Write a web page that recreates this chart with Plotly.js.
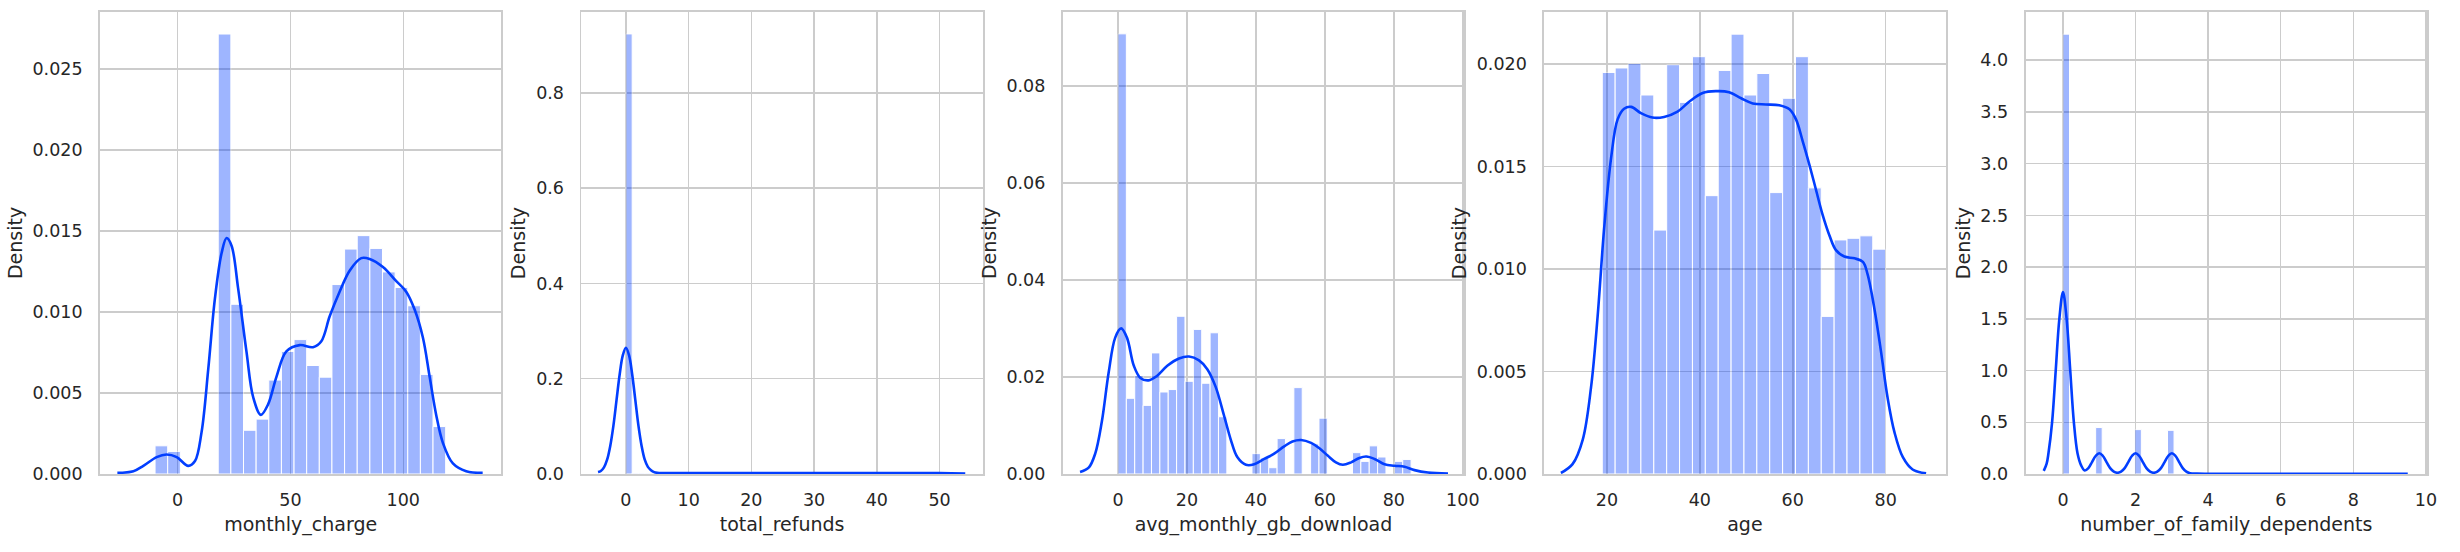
<!DOCTYPE html>
<html><head><meta charset="utf-8">
<script src="https://cdn.plot.ly/plotly-3.0.1.min.js"></script>
<style>html,body{margin:0;padding:0;background:#fff}</style>
</head><body><div id="chart" style="width:2460px;height:552px"></div>
<script>
// ---------- data ----------
const xTitles = ["monthly_charge", "total_refunds", "avg_monthly_gb_download", "age", "number_of_family_dependents"];

// monthly_charge histogram (density) and KDE
const mcBinStart = -10, mcBinWidth = 5.6;
const mcHeights = [0.00174, 0.00139, 0, 0, 0, 0.02717, 0.01048, 0.0027, 0.00339, 0.0058, 0.00757, 0.0083, 0.0067, 0.00598, 0.0117, 0.01389, 0.01472, 0.01393, 0.01248, 0.01152, 0.01039, 0.00615, 0.00293];
const mcKdeX = [-26.7,-19.6,-15.2,-9.3,-4.9,-0.4,4.7,7.7,10.6,13.6,16.5,19.5,21.7,23.9,26.8,30.5,33.5,36.9,40.1,43.8,48.2,54.1,60.0,63.7,67.4,71.8,76.3,81.4,85.1,91.0,96.9,101.3,105,108.7,111.7,114.6,117.6,122,127.9,135.2];
const mcKdeY = [0.00007,0.00017,0.0005,0.00104,0.0012,0.00104,0.0005,0.0008,0.00257,0.0065,0.0108,0.01365,0.01457,0.0141,0.01148,0.00757,0.00474,0.00365,0.0043,0.006,0.00757,0.00796,0.00783,0.0082,0.00974,0.01126,0.01257,0.01333,0.01328,0.01278,0.01191,0.01126,0.01017,0.00843,0.006,0.00365,0.00191,0.00065,0.00017,0.00007];

// total_refunds
const trBinStart = 0, trBinWidth = 0.996;
const trHeights = [0.924,
  0.0016,0.0016,0.0016,0.0016,0.0016,0.0016,0.0016,0.0016,0.0016,0.0016,
  0.0016,0.0016,0.0016,0.0016,0.0016,0.0016,0.0016,0.0016,0.0016,0.0016,
  0.0016,0.0016,0.0016,0.0016,0.0016,0.0016,0.0016,0.0016,0.0016,0.0016,
  0.0016,0.0016,0.0016,0.0016,0.0016,0.0016,0.0016,0.0016,0.0016,0.0016,
  0.0016,0.0016,0.0016,0.0016,0.0016,0.0016,0.0016,0.0016,0.0016];
const trKdeX = [-4.45,-4,-3.5,-3,-2.5,-2,-1.5,-1,-0.5,0,0.5,1,1.5,2,2.5,3,3.5,4,4.5,5,6,10,20,30,40,50,54.1];
const trKdeY = [0.004,0.0064,0.014,0.03,0.059,0.101,0.155,0.209,0.249,0.265,0.249,0.209,0.155,0.101,0.059,0.03,0.015,0.008,0.004,0.0025,0.002,0.002,0.002,0.002,0.002,0.002,0.001];

// avg_monthly_gb_download
const gbBinStart = 0, gbBinWidth = 2.4286;
const gbHeights = [0.0907, 0.0156, 0.0203, 0.01414, 0.02495, 0.0169, 0.0174, 0.0325, 0.0191, 0.0298, 0.0187, 0.0291, 0.0118, 0, 0, 0, 0.0042, 0.0033, 0.0013, 0.0073, 0, 0.0178, 0, 0.0062, 0.0115, 0, 0, 0, 0.0044, 0.0026, 0.0058, 0.0035, 0, 0.0026, 0.003];
const gbKdeX = [-11,-8.5,-6.6,-4.7,-2.7,-0.8,0.9,2.6,4.6,6.5,8.9,11.3,14.3,17.7,20.6,23.5,25.9,28.3,30.7,32.7,34.6,37.1,39.5,42.4,45.3,48.2,50.6,53.1,56,58.4,60.8,63.2,65.2,67.6,70,72,74.4,77.3,80.2,83.1,86,89.9,95.7];
const gbKdeY = [0.0004,0.0013,0.0042,0.0107,0.0209,0.0281,0.03,0.0281,0.0223,0.0198,0.0193,0.0202,0.0223,0.0238,0.0242,0.0234,0.0216,0.018,0.0122,0.0071,0.0035,0.0019,0.002,0.0031,0.0042,0.0057,0.0067,0.007,0.0064,0.0053,0.0038,0.0024,0.0019,0.0024,0.0033,0.0036,0.0031,0.002,0.0017,0.0015,0.0008,0.0003,0.0001];

// age
const agBinStart = 19, agBinWidth = 2.7727;
const agHeights = [0.01959, 0.01981, 0.02003, 0.01849, 0.0119, 0.01997, 0.01813, 0.02036, 0.01358, 0.01969, 0.02146, 0.01849, 0.01954, 0.01373, 0.01833, 0.02036, 0.01396, 0.00769, 0.01142, 0.0115, 0.01162, 0.01097];
const agKdeX = [10.1,12.6,14.8,16.6,18.0,19.4,20.9,22.3,23.7,25.2,27.3,29.8,32.3,35.2,37.7,40.6,43.5,46.3,48.9,51.4,54.2,57.1,59.3,60.7,62.1,63.6,65.0,66.4,67.9,69.3,71.1,73.3,75.1,76.1,77.6,79.0,80.4,81.9,83.7,85.8,88.7];
const agKdeY = [0.00005,0.00048,0.00168,0.00426,0.00769,0.01198,0.01542,0.0173,0.01782,0.01791,0.01761,0.01739,0.01742,0.01768,0.01816,0.01859,0.01868,0.01863,0.01833,0.01808,0.01803,0.01799,0.01779,0.0173,0.01627,0.01507,0.01387,0.01267,0.01164,0.01092,0.01061,0.01052,0.01035,0.00975,0.00803,0.00597,0.00374,0.00203,0.00082,0.00022,0.00003];

// number_of_family_dependents
const fdBinStart = 0, fdBinWidth = 0.18;
const fdHeights = [4.252,0,0,0,0,0.449,0,0,0,0,0,0.429,0,0,0,0,0.422,0,0,0,0,0,0.004,0,0,0,0,0.002,0,0,0,0,0,0.002,0,0,0,0,0.001,0,0,0,0,0,0.001,0,0,0,0,0.001];
const fdKdeX = [-0.53,-0.45,-0.4,-0.3,-0.2,-0.1,0,0.1,0.2,0.3,0.4,0.5,0.6,0.7,0.8,0.9,1.0,1.1,1.2,1.3,1.4,1.5,1.6,1.7,1.8,1.9,2.0,2.1,2.2,2.3,2.4,2.5,2.6,2.7,2.8,2.9,3.0,3.1,3.2,3.3,3.4,3.5,3.7,4,6,8,9.5];
const fdKdeY = [0.03,0.1,0.2,0.5,1.0,1.5,1.76,1.5,1.0,0.5,0.2,0.083,0.034,0.057,0.115,0.174,0.2,0.174,0.115,0.057,0.023,0.012,0.023,0.057,0.115,0.174,0.2,0.174,0.115,0.057,0.023,0.012,0.023,0.057,0.115,0.174,0.2,0.174,0.115,0.057,0.023,0.008,0.004,0.003,0.003,0.003,0.002];

// axis ranges / ticks
const xRanges = [[-34.4,143.5],[-7.1,56.9],[-16,100.4],[6.5,92.9],[-1.03,10.03]];
const yRanges = [[0,0.02853],[0,0.970],[0,0.0952],[0,0.02254],[0,4.466]];
const xDticks = [50, 10, 20, 20, 2];
const yDticks = [0.005, 0.2, 0.02, 0.005, 0.5];
const yFormats = [".3f", ".1f", ".2f", ".3f", ".1f"];

// ---------- build ----------
const panels = [
  [mcBinStart, mcBinWidth, mcHeights, mcKdeX, mcKdeY],
  [trBinStart, trBinWidth, trHeights, trKdeX, trKdeY],
  [gbBinStart, gbBinWidth, gbHeights, gbKdeX, gbKdeY],
  [agBinStart, agBinWidth, agHeights, agKdeX, agKdeY],
  [fdBinStart, fdBinWidth, fdHeights, fdKdeX, fdKdeY]
];
const lineColor = "#023eff";
const traces = [];
const layout = {
  width: 2460, height: 552,
  margin: {l: 100, r: 33, t: 12, b: 78},
  paper_bgcolor: "#ffffff", plot_bgcolor: "#ffffff",
  showlegend: false,
  font: {family: "DejaVu Sans", color: "#262626", size: 17.5},
  bargap: 0
};
const plotW = 2460 - 100 - 33;
const panelW = 401.4, gapW = 80;
panels.forEach((p, i) => {
  const [b0, bw, hs, kx, ky] = p;
  const sfx = i === 0 ? "" : String(i + 1);
  const centers = hs.map((_, k) => b0 + bw * (k + 0.5));
  traces.push({
    type: "bar", x: centers, y: hs, width: bw,
    xaxis: "x" + sfx, yaxis: "y" + sfx,
    marker: {color: lineColor, line: {color: "#ffffff", width: 1}},
    opacity: 0.38, hoverinfo: "skip"
  });
  traces.push({
    type: "scatter", mode: "lines", x: kx, y: ky,
    xaxis: "x" + sfx, yaxis: "y" + sfx,
    line: {color: lineColor, width: 2.6, shape: "spline", smoothing: 1},
    hoverinfo: "skip"
  });
  const common = {
    showgrid: true, gridcolor: "#cccccc", gridwidth: 1.5,
    showline: true, linecolor: "#cccccc", linewidth: 1.9, mirror: true,
    zeroline: false, ticks: "", tickfont: {size: 17.5, color: "#262626"}
  };
  const d0 = i * (panelW + gapW) / plotW;
  const d1 = (i * (panelW + gapW) + panelW) / plotW;
  layout["xaxis" + sfx] = Object.assign({}, common, {
    domain: [d0, Math.min(d1, 1)], anchor: "y" + sfx,
    range: xRanges[i], dtick: xDticks[i], tick0: 0,
    ticklabelstandoff: 9,
    title: {text: xTitles[i], font: {size: 19, color: "#262626"}, standoff: 9}
  });
  layout["yaxis" + sfx] = Object.assign({}, common, {
    domain: [0, 1], anchor: "x" + sfx,
    range: yRanges[i], dtick: yDticks[i], tick0: 0, tickformat: yFormats[i],
    ticklabelstandoff: 12,
    title: {text: "Density", font: {size: 19, color: "#262626"}, standoff: 5}
  });
});
Plotly.newPlot("chart", traces, layout, {staticPlot: true, displayModeBar: false});
</script></body></html>
